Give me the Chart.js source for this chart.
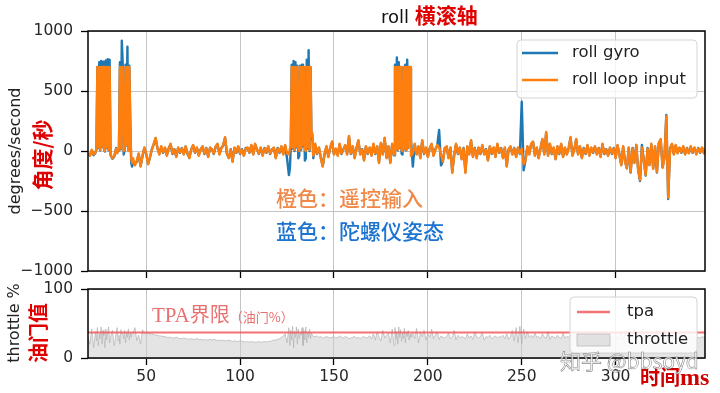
<!DOCTYPE html>
<html><head><meta charset="utf-8">
<script src="https://cdn.jsdelivr.net/npm/chart.js@4"></script>
<style>
html,body{margin:0;padding:0;background:#fff;width:720px;height:393px;overflow:hidden;position:relative;font-family:"DejaVu Sans",sans-serif;}
#top{position:absolute;left:0;top:0;width:720px;height:280px;}
#bot{position:absolute;left:0;top:280px;width:720px;height:113px;}
.t{position:absolute;white-space:nowrap;line-height:1;}
.rot{transform:translate(-50%,-50%) rotate(-90deg);}
.cjk{font-family:"Noto Sans CJK SC",sans-serif;}
.ser{font-family:"Liberation Serif",serif;}
</style></head><body>
<div id="top"><canvas id="c1" width="720" height="280"></canvas></div>
<div id="bot"><canvas id="c2" width="720" height="113"></canvas></div>

<div class="t" style="left:381px;top:2px;height:24px;line-height:24px;font-size:18px;color:#111">roll <span class="cjk" style="font-weight:700;font-size:21px;color:#e00000">横滚轴</span></div>
<div class="t rot" style="left:15px;top:151px;font-size:16px;color:#222">degrees/second</div>
<div class="t rot cjk" style="left:41px;top:155px;font-weight:700;font-size:21px;color:#e00000">角度/秒</div>
<div class="t rot" style="left:14px;top:323px;font-size:16px;color:#222">throttle %</div>
<div class="t rot cjk" style="left:38px;top:333px;font-weight:700;font-size:20px;color:#e00000">油门值</div>
<div class="t cjk" style="left:276px;top:197px;transform:translateY(-50%);font-size:21px;font-weight:500;color:#f08848">橙色：遥控输入</div>
<div class="t cjk" style="left:276px;top:230px;transform:translateY(-50%);font-size:21px;font-weight:500;color:#1c74d0">蓝色：陀螺仪姿态</div>
<div class="t" style="left:152px;top:315px;transform:translateY(-50%);color:#e97070"><span class="ser" style="font-size:21px">TPA</span><span class="cjk" style="font-size:20px">界限</span><span class="cjk" style="font-size:13px">（油门%）</span></div>
<div class="t" style="left:640px;top:377px;transform:translateY(-50%);color:#d00000;font-weight:700"><span class="cjk" style="font-size:20px">时间</span><span class="ser" style="font-size:24px">ms</span></div>
<div class="t cjk" style="left:560px;top:360px;transform:translateY(-50%);font-size:21px;color:rgba(255,255,255,0.85);-webkit-text-stroke:0.6px rgba(90,90,90,0.7)">知乎 @bbsoyd</div>

<script>
// ---------- data (time in ms) ----------
const time = [
  19,20,21,22,23,
  23.5,24,24.5,25,25.5,26,26.5,27,27.5,28,28.5,29,29.5,30,30.5,31,
  32,33,34,
  34.5,35,35.5,36,36.5,37,37.5,38,38.5,39,39.5,40,40.5,41,41.5,42,42.5,43,
  44,45,46,47,48,
  49,50,51,52,53,54,55,56,57,58,
  59,60,61,62,63,64,65,66,67,68,
  69,70,71,72,73,74,75,76,77,78,
  79,80,81,82,83,84,85,86,87,88,
  89,90,91,92,93,94,95,96,97,98,
  99,100,101,102,103,104,105,106,107,108,
  109,110,111,112,113,114,115,116,117,118,
  119,120,121,122,123,124,125,126,
  126.5,127,127.5,128,128.5,129,129.5,130,130.5,131,131.5,132,132.5,133,133.5,134,134.5,135,135.5,136,136.5,137,137.5,138,138.5,139,
  140,141,142,143,144,145,146,147,148,
  149,150,151,152,153,154,155,156,157,158,
  159,160,161,162,163,164,165,166,167,168,
  169,170,171,172,173,174,175,176,177,178,
  179,180,181,
  181.5,182,182.5,183,183.5,184,184.5,185,185.5,186,186.5,187,187.5,188,188.5,189,189.5,190,190.5,191,
  192,193,194,195,196,197,198,
  199,200,201,202,203,204,205,206,207,208,
  209,210,211,212,213,214,215,216,217,218,
  219,220,221,222,223,224,225,226,227,228,
  229,230,231,232,233,234,235,236,237,238,
  239,240,241,242,243,244,245,246,247,248,
  249,250,251,252,253,254,255,256,257,258,
  259,260,261,262,263,264,265,266,267,268,
  269,270,271,272,273,274,275,276,277,278,
  279,280,281,282,283,284,285,286,287,288,
  289,290,291,292,293,294,295,296,297,298,
  299,300,301,302,303,304,305,306,307,308,
  309,310,311,312,313,314,315,316,317,318,
  319,320,321,322,323,324,325,326,327,328,
  329,330,331,332,333,334,335,336,337,338,
  339,340,341,342,343,344,345,346,347,348
];

const loopInput = [
  -20,-40,10,-30,-10,
  20,700,30,700,10,700,40,700,20,0,700,30,700,10,700,-30,
  -60,-40,20,
  -20,10,40,700,20,700,700,0,10,700,50,700,0,700,250,-60,-100,-60,
  -120,-80,-20,-130,-40,
  30,-20,-110,-50,10,60,110,20,-30,40,
  -10,30,-40,20,60,-20,10,-50,30,-10,
  20,-30,40,-20,-60,10,50,-10,30,-40,
  10,40,-20,20,-50,30,10,-20,40,60,
  -30,20,50,115,-20,-60,10,-90,30,-10,
  40,-20,10,-40,20,30,-10,50,-30,60,
  10,-20,30,-40,20,-10,40,-20,10,30,
  -60,20,-10,40,-30,50,-20,-30,
  20,40,700,30,700,10,700,40,700,20,0,700,20,700,50,700,10,0,700,30,700,10,700,120,150,-40,
  60,-20,30,-60,-130,-20,40,-50,30,
  80,-30,20,-40,60,-20,10,50,-30,125,
  -20,40,-60,20,90,-30,10,-80,40,-20,
  30,-40,60,-20,40,-100,70,-30,110,-60,
  40,-100,60,
  20,-30,700,20,700,10,700,30,700,10,0,700,20,700,10,700,30,700,700,-40,
  -20,60,-30,40,-60,90,-20,
  30,-50,20,60,-40,10,50,30,-30,-90,
  20,40,-60,30,-183,-40,60,-20,30,-70,
  20,-183,40,-30,90,-50,20,-60,30,-20,
  50,-30,10,-80,40,-20,30,-50,60,-10,
  20,-60,30,-130,10,40,-30,20,-50,30,
  -20,20,-110,-80,40,-30,60,80,-40,30,
  -60,20,100,-30,158,-40,60,-20,30,-70,
  40,-20,60,-50,30,-30,20,117,-40,10,
  100,-30,40,-60,20,-20,50,-40,30,-10,
  40,-30,20,-50,60,-20,10,-40,30,-20,
  20,-60,50,-30,-120,40,-90,-142,30,-175,
  20,-100,50,-160,-242,30,-80,-200,20,-120,
  60,-150,40,-175,67,100,-140,-60,290,-390,
  20,60,-30,50,-20,30,-10,40,-30,20,
  -20,40,-10,30,-30,20,-10,30,-20,10
];

const gyro = [
  -25,-35,5,-35,-15,
  15,700,25,740,5,750,35,745,15,-5,755,25,765,5,760,-35,
  -65,-45,25,
  -15,5,45,740,15,920,720,-30,5,720,45,870,10,710,240,-100,-130,-90,
  -110,-90,-25,-125,-45,
  25,-25,-105,-55,15,55,105,25,-25,35,
  -15,25,-35,25,55,-25,15,-45,25,-15,
  25,-25,35,-25,-55,15,45,-15,25,-35,
  15,35,-25,25,-45,25,15,-25,35,55,
  -25,25,45,110,-25,-55,15,-85,25,-15,
  35,-25,15,-35,25,25,-15,45,-25,55,
  15,-25,25,-35,25,-15,35,-25,15,25,
  -55,25,-15,35,-25,45,-60,-200,
  -150,30,720,20,750,0,740,30,710,-60,-40,710,10,720,40,700,-80,-60,760,20,840,0,700,100,130,-60,
  55,-25,25,-55,-125,-25,35,-45,25,
  75,-25,15,-35,55,-25,15,45,-25,120,
  -25,35,-55,25,85,-25,15,-75,35,-25,
  25,-35,55,-25,35,-95,65,-25,105,-55,
  35,-95,55,
  15,-35,720,15,780,5,740,25,700,-20,-30,700,15,720,5,760,25,700,690,100,
  -130,55,-25,35,-55,85,-25,
  25,-45,25,55,-35,15,45,175,-120,-85,
  25,35,-55,25,-175,-35,55,-25,25,-65,
  25,-175,35,-25,85,-45,25,-55,25,-25,
  45,-25,15,-75,35,-25,25,-45,55,-15,
  25,-55,25,-125,15,35,-25,25,-45,25,
  -25,410,-160,-75,35,-25,55,75,-35,25,
  -55,25,95,-25,150,-35,55,-25,25,-65,
  35,-25,55,-45,25,-25,25,110,-35,15,
  95,-25,35,-55,25,-25,45,-35,25,-15,
  35,-25,25,-45,55,-25,15,-35,25,-25,
  25,-55,45,-25,-115,35,-85,-145,25,-180,
  25,-95,50,-155,-250,50,-75,-205,25,-115,
  55,-145,35,-180,65,95,-135,-55,300,-400,
  25,55,-25,45,-15,25,-15,35,-25,25,
  -15,35,-15,25,-25,25,-15,25,-15,15
];

const throttle = [
  30,20,42,15,38,
  25,44,18,35,28,45,20,40,32,15,42,26,38,45,22,30,
  40,18,36,
  44,25,33,20,41,35,36,28,40,22,38,30,42,26,36,30,37,36,
  44,25,33,20,41,
  36,37,36,35,35,34,33,33,32,32,
  31,31,30,30,30,29,29,30,29,28,
  28,29,28,28,27,28,27,27,28,27,
  27,26,27,26,26,27,26,27,26,25,
  26,25,26,25,25,26,25,24,25,24,
  24,25,24,24,23,24,23,24,23,23,
  23,24,23,23,24,23,24,24,25,26,
  26,27,28,30,32,35,22,44,
  18,40,26,46,15,38,30,45,20,42,28,36,33,44,18,40,26,45,22,38,30,42,28,36,33,31,
  31,32,30,31,29,30,31,30,29,
  30,31,29,30,32,30,29,31,30,28,
  29,30,31,29,30,28,30,31,29,30,
  32,28,35,26,38,30,25,40,29,33,
  36,22,42,
  30,18,44,27,38,20,45,30,41,24,36,28,43,22,37,31,40,26,35,30,
  36,28,43,22,37,31,40,
  26,35,30,42,28,33,38,27,32,30,
  29,31,36,28,30,40,26,33,29,31,
  30,28,35,29,32,27,38,30,29,31,
  37,26,31,30,33,28,30,32,29,31,
  30,33,28,35,27,31,40,25,44,22,
  46,20,42,28,38,30,33,29,36,30,
  31,28,35,30,29,38,27,32,30,29,
  33,30,28,36,29,31,30,34,28,32,
  30,38,27,31,29,33,30,28,35,29,
  31,30,32,28,34,29,30,31,28,32,
  30,36,27,31,38,26,33,40,28,35,
  30,42,27,33,38,25,36,30,34,29,
  37,28,33,40,26,35,30,42,24,38,
  31,29,33,30,28,32,30,29,31,30,
  32,29,30,31,28,30,29,31,30,29
];

const tpaTime = [19, 348];
const tpa = [37, 37];

const xTicks = [50, 100, 150, 200, 250, 300];
const rateTicks = [-1000, -500, 0, 500, 1000];
const throttleTicks = [0, 100];

// ---------- helpers ----------
const pts = (xs, ys) => xs.map((x, i) => ({x: x, y: ys[i]}));
const fmt = v => (v < 0 ? '\u2212' + Math.abs(v) : String(v));
const tickFont = {family: "'DejaVu Sans', sans-serif", size: 15.5};
const gridOpts = {color: '#c4c4c4', lineWidth: 1, tickColor: '#000', tickLength: 7, tickWidth: 1.3};
const fitY = s => { s.width = 88; s.paddingTop = 0; s.paddingBottom = 0; };
const fitX = h => s => { s.height = h; s.paddingLeft = 0; s.paddingRight = 0; };

const frame = {
  id: 'frame',
  afterDatasetsDraw(chart) {
    const {ctx, chartArea: a} = chart;
    ctx.save();
    ctx.strokeStyle = '#000';
    ctx.lineWidth = 1.5;
    ctx.strokeRect(a.left, a.top, a.right - a.left, a.bottom - a.top);
    ctx.restore();
  }
};

const boxLegend = {
  id: 'boxLegend',
  afterDraw(chart, args, o) {
    if (!o || !o.box) return;
    const ctx = chart.ctx;
    ctx.save();
    ctx.beginPath();
    ctx.roundRect(o.box.x, o.box.y, o.box.w, o.box.h, 4);
    ctx.fillStyle = 'rgba(255,255,255,0.82)';
    ctx.fill();
    ctx.strokeStyle = '#d4d4d4';
    ctx.lineWidth = 1;
    ctx.stroke();
    ctx.font = o.font;
    ctx.textBaseline = 'middle';
    o.items.forEach((it, k) => {
      const ds = chart.data.datasets[it];
      const y = o.rows[k];
      if (ds.fill) {
        ctx.fillStyle = ds.backgroundColor;
        ctx.fillRect(o.x1, y - 6, o.x2 - o.x1, 12);
        ctx.strokeStyle = ds.borderColor;
        ctx.lineWidth = 1;
        ctx.strokeRect(o.x1, y - 6, o.x2 - o.x1, 12);
      } else {
        ctx.strokeStyle = ds.borderColor;
        ctx.lineWidth = Math.max(ds.borderWidth, 2.5);
        ctx.beginPath();
        ctx.moveTo(o.x1, y);
        ctx.lineTo(o.x2, y);
        ctx.stroke();
      }
      ctx.fillStyle = '#222';
      ctx.fillText(ds.label, o.textX, y);
    });
    ctx.restore();
  }
};

Chart.defaults.font.family = "'DejaVu Sans', sans-serif";

new Chart(document.getElementById('c1'), {
  type: 'line',
  data: {
    datasets: [
      {label: 'roll gyro', data: pts(time, gyro), borderColor: '#1f77b4', borderWidth: 2.4,
       pointRadius: 0, order: 1, borderJoinStyle: 'round', tension: 0},
      {label: 'roll loop input', data: pts(time, loopInput), borderColor: '#ff7f0e', borderWidth: 2.4,
       pointRadius: 0, order: 0, borderJoinStyle: 'round', tension: 0}
    ]
  },
  options: {
    responsive: false, animation: false, events: [],
    layout: {padding: {top: 31, right: 15, left: 0, bottom: 0}},
    plugins: {
      legend: {display: false}, tooltip: {enabled: false},
      boxLegend: {box: {x: 517, y: 40, w: 180, h: 58}, rows: [53, 80], x1: 522, x2: 558, textX: 572,
                  font: "16.5px 'DejaVu Sans'", items: [0, 1]}
    },
    scales: {
      x: {type: 'linear', min: 19, max: 347.6,
          afterBuildTicks: s => { s.ticks = xTicks.map(v => ({value: v})); },
          afterFit: fitX(9),
          ticks: {display: false}, grid: gridOpts, border: {display: false}},
      y: {type: 'linear', min: -1000, max: 1000,
          afterBuildTicks: s => { s.ticks = rateTicks.map(v => ({value: v})); },
          afterFit: fitY,
          ticks: {font: tickFont, color: '#262626', padding: 8, callback: v => fmt(v)},
          grid: gridOpts, border: {display: false}}
    }
  },
  plugins: [frame, boxLegend]
});

new Chart(document.getElementById('c2'), {
  type: 'line',
  data: {
    datasets: [
      {label: 'tpa', data: pts(tpaTime, tpa), borderColor: 'rgba(240,90,90,0.85)', borderWidth: 2,
       pointRadius: 0, fill: false},
      {label: 'throttle', data: pts(time, throttle), borderColor: 'rgba(175,175,175,0.65)',
       backgroundColor: 'rgba(205,205,205,0.55)', borderWidth: 1, pointRadius: 0, fill: 'origin', tension: 0}
    ]
  },
  options: {
    responsive: false, animation: false, events: [],
    layout: {padding: {top: 9, right: 15, left: 0, bottom: 0}},
    plugins: {
      legend: {display: false}, tooltip: {enabled: false},
      boxLegend: {box: {x: 570, y: 17, w: 127, h: 56}, rows: [32, 60], x1: 577, x2: 610, textX: 627,
                  font: "16.5px 'DejaVu Sans'", items: [0, 1]}
    },
    scales: {
      x: {type: 'linear', min: 19, max: 347.6,
          afterBuildTicks: s => { s.ticks = xTicks.map(v => ({value: v})); },
          afterFit: fitX(35),
          ticks: {font: tickFont, color: '#262626', padding: 3, maxRotation: 0, callback: v => fmt(v)},
          grid: gridOpts, border: {display: false}},
      y: {type: 'linear', min: 0, max: 100,
          afterBuildTicks: s => { s.ticks = throttleTicks.map(v => ({value: v})); },
          afterFit: fitY,
          ticks: {font: tickFont, color: '#262626', padding: 8, callback: v => fmt(v)},
          grid: gridOpts, border: {display: false}}
    }
  },
  plugins: [frame, boxLegend]
});
</script>
</body></html>
